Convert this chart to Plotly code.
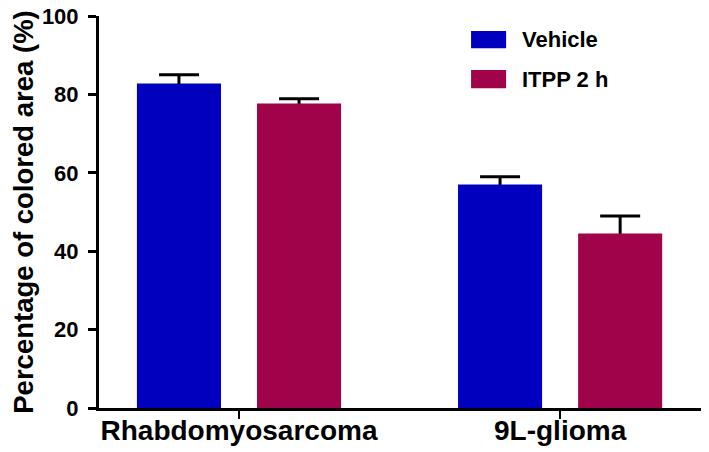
import plotly.graph_objects as go

categories = ["Rhabdomyosarcoma", "9L-glioma"]
series_names = ["Vehicle", "ITPP 2 h"]
vehicle_values = [82.8, 57.0]
vehicle_errors = [2.2, 2.0]
itpp_values = [77.7, 44.5]
itpp_errors = [1.2, 4.5]
y_ticks = [0, 20, 40, 60, 80, 100]

colors = ["#0000BE", "#A0034A"]
FONT = "Liberation Sans, Arial, sans-serif"

fig = go.Figure()
for i, (name, vals, errs, col) in enumerate([
    (series_names[0], vehicle_values, vehicle_errors, colors[0]),
    (series_names[1], itpp_values, itpp_errors, colors[1]),
]):
    grp = f"g{i}"
    # error bars first (transparent bar), so the visible bar covers the lower half
    fig.add_trace(go.Bar(
        x=categories, y=vals, name=name, offsetgroup=grp,
        marker=dict(color="rgba(0,0,0,0)", line=dict(width=0)),
        error_y=dict(type="data", array=errs, symmetric=True,
                     color="black", thickness=3, width=20),
        showlegend=False, hoverinfo="skip",
    ))
    fig.add_trace(go.Bar(
        x=categories, y=vals, name=name, offsetgroup=grp,
        marker=dict(color=col, line=dict(width=0)),
        showlegend=False,
    ))

# legend drawn manually (swatches + labels)
sw_x0, sw_x1, txt_x = 0.616, 0.674, 0.697
rows = [(0.962, 0.918), (0.862, 0.816)]
for (y1, y0), name, col in zip(rows, series_names, colors):
    fig.add_shape(type="rect", xref="paper", yref="paper",
                  x0=sw_x0, x1=sw_x1, y0=y0, y1=y1,
                  fillcolor=col, line=dict(width=0))
    fig.add_annotation(xref="paper", yref="paper", x=txt_x, y=(y0 + y1) / 2,
                       text=name, showarrow=False, xanchor="left", yanchor="middle",
                       font=dict(family=FONT, size=22, color="black", weight=700))

# page has an 8px body margin, so the figure is sized to the visible area
fig.update_layout(
    width=701, height=444,
    margin=dict(l=91, r=6, t=8, b=44),
    paper_bgcolor="white", plot_bgcolor="white",
    barmode="group", bargap=0.252, bargroupgap=0.3,
    font=dict(family=FONT, color="black"),
)
fig.update_xaxes(
    range=[-0.436, 1.445], automargin=False,
    showline=True, linecolor="black", linewidth=3,
    ticks="outside", ticklen=8, tickwidth=2, tickcolor="black",
    tickfont=dict(family=FONT, size=28, color="black", weight=700),
    ticklabelstandoff=-13, ticklabeloverflow="allow",
    showgrid=False, zeroline=False,
)
fig.update_yaxes(
    range=[0, 100], tickvals=y_ticks, automargin=False,
    showline=True, linecolor="black", linewidth=3,
    ticks="outside", ticklen=8, tickwidth=3, tickcolor="black",
    tickfont=dict(family=FONT, size=22, color="black", weight=700),
    ticklabelstandoff=5, ticklabeloverflow="allow",
    title=dict(text="Percentage of colored area (%)",
               font=dict(family=FONT, size=27.5, color="black", weight=700),
               standoff=20),
    showgrid=False, zeroline=False,
)

fig.write_html("out.html")
